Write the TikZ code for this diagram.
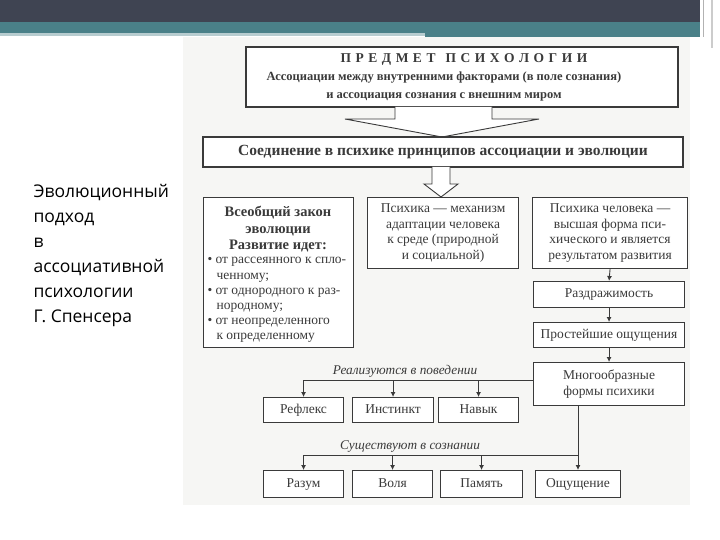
\documentclass[tikz,border=0pt]{standalone}
\usepackage{fontspec}
\setmainfont{Liberation Serif}
\newfontfamily\slidefont{Open Sans}
\usetikzlibrary{arrows.meta}
\definecolor{topbar}{HTML}{3F4452}
\definecolor{teal}{HTML}{4A8088}
\definecolor{scan}{HTML}{F6F6F4}
\definecolor{ink}{HTML}{3A3A3A}
\tikzset{
 bx/.style={draw=ink,line width=1.1pt,fill=white,inner sep=1pt,align=center,font=\fontsize{13.5}{15.5}\selectfont,text=ink},
 sbx/.style={bx,text height=9.5pt,text depth=3pt},
 conn/.style={draw=ink,line width=0.9pt},
 arr/.style={conn,-{Latex[length=5pt,width=5pt]}},
 lbl/.style={font=\fontsize{13.3}{15}\selectfont\itshape,text=ink}
}
\begin{document}
\begin{tikzpicture}[x=1pt,y=-1pt]
\useasboundingbox (0,0) rectangle (720,540);
\fill[white] (0,0) rectangle (720,540);
\fill[topbar] (0,0) rectangle (700,22);
\fill[teal] (0,22) rectangle (700,33);
\fill[teal!40!white] (0,33) rectangle (425,36);
\fill[teal] (425,33) rectangle (700,37);
\draw[gray!60,line width=1pt] (703,0) -- (703,37);
\draw[gray!40,line width=2pt] (712,0) -- (712,48);
\fill[scan] (183,37) rectangle (690,505);
% left title
\node[anchor=north west,align=left,font=\slidefont\fontsize{17.5}{25}\selectfont,text=black] (title) at (30,181)
 {Эволюционный\\подход\\в\\ассоциативной\\психологии\\Г. Спенсера};
% top box
\node[bx,minimum width=432,minimum height=60] (top) at (462,77) {};
\node[font=\fontsize{13.5}{15}\selectfont\bfseries,text=ink] (toph) at (464,59) {П\,\,Р\,\,Е\,\,Д\,\,М\,\,Е\,\,Т\ \ \ П\,\,С\,\,И\,\,Х\,\,О\,\,Л\,\,О\,\,Г\,\,И\,\,И};
\node[align=center,font=\fontsize{12.5}{18}\selectfont\bfseries,text=ink] (topt) at (444,86) {Ассоциации между внутренними факторами (в поле сознания)\\и ассоциация сознания с внешним миром};
% big arrow
\draw[conn,fill=white] (395,107) -- (395,119) -- (345,119) -- (442,137) -- (539,119) -- (492,119) -- (492,107);
% second box
\node[bx,minimum width=480,minimum height=30,font=\fontsize{15.5}{17}\selectfont\bfseries] (sec) at (443,152) {Соединение в психике принципов ассоциации и эволюции};
% small block arrow
\draw[conn,fill=white] (432,167) -- (432,184) -- (424,184) -- (441,197) -- (458,184) -- (450,184) -- (450,167);
% three boxes
\node[bx,minimum width=150,minimum height=150,anchor=north west] (law) at (203,197) {};
\node[anchor=north,align=center,font=\fontsize{14.5}{16.5}\selectfont\bfseries,text=ink] (lawh) at (278,203) {Всеобщий закон\\эволюции\\Развитие идет:};
\node[anchor=north west,align=left,font=\fontsize{13.5}{15.2}\selectfont,text=ink] (lawt) at (204,254)
 {• от рассеянного к спло-\\\ \ \,ченному;\\• от однородного к раз-\\\ \ \,нородному;\\• от неопределенного\\\ \ \,к определенному};
\node[bx,minimum width=151,minimum height=71,anchor=north west] (adapt) at (367,197) {Психика — механизм\\адаптации человека\\к среде (природной\\и социальной)};
\node[bx,minimum width=155,minimum height=71,anchor=north west] (human) at (532,197) {Психика человека —\\высшая форма пси-\\хического и является\\результатом развития};
\node[sbx,minimum width=151,minimum height=26,anchor=north west] (irr) at (533,281) {Раздражимость};
\node[sbx,minimum width=151,minimum height=25,anchor=north west] (sens) at (533,322) {Простейшие ощущения};
\node[bx,minimum width=151,minimum height=43,anchor=north west] (forms) at (533,362) {Многообразные\\формы психики};
\draw[arr] (human.south) -- (irr.north);
\draw[arr] (irr.south) -- (sens.north);
\draw[arr] (sens.south) -- (forms.north);
% behaviour row
\node[sbx,minimum width=80,minimum height=25,anchor=north west] (refl) at (263,397) {Рефлекс};
\node[sbx,minimum width=81,minimum height=25,anchor=north west] (inst) at (352,397) {Инстинкт};
\node[sbx,minimum width=80,minimum height=25,anchor=north west] (skill) at (438,397) {Навык};
\coordinate (b0) at (forms.west |- 0,380);
\coordinate (b1) at (refl.north |- b0);
\draw[conn] (b0) -- (b1);
\draw[arr] (b1) -- (refl.north);
\draw[arr] (inst.north |- b0) -- (inst.north);
\draw[arr] (skill.north |- b0) -- (skill.north);
\node[lbl] (l1) at (405,371) {Реализуются в поведении};
% consciousness row
\node[sbx,minimum width=80,minimum height=27,anchor=north west] (mind) at (263,470) {Разум};
\node[sbx,minimum width=80,minimum height=27,anchor=north west] (will) at (352,470) {Воля};
\node[sbx,minimum width=82,minimum height=27,anchor=north west] (mem) at (440,470) {Память};
\node[sbx,minimum width=85,minimum height=27,anchor=north west] (feel) at (535,470) {Ощущение};
\coordinate (c0) at (578,455);
\draw[conn] (forms.south -| c0) -- (c0) -- (mind.north |- c0);
\draw[arr] (c0) -- (c0 |- feel.north);
\draw[arr] (mind.north |- c0) -- (mind.north);
\draw[arr] (will.north |- c0) -- (will.north);
\draw[arr] (mem.north |- c0) -- (mem.north);
\node[lbl] (l2) at (410,447) {Существуют в сознании};
\end{tikzpicture}
\end{document}
